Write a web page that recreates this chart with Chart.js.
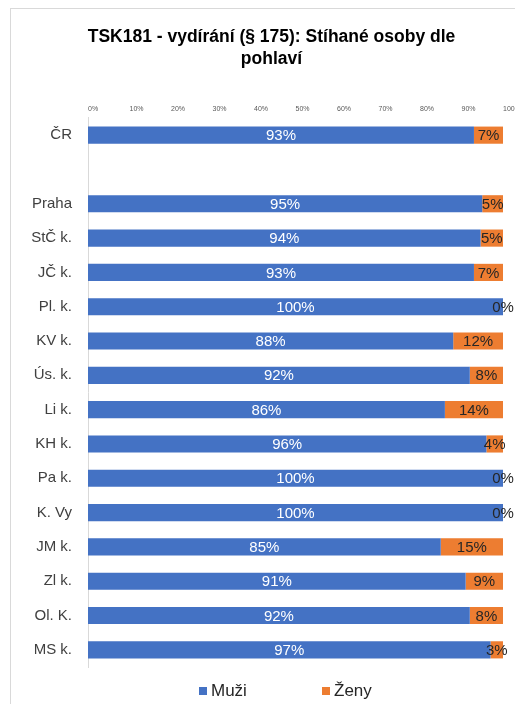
<!DOCTYPE html>
<html>
<head>
<meta charset="utf-8">
<script src="https://cdn.jsdelivr.net/npm/chart.js@4/dist/chart.umd.min.js"></script>
<style>
  html, body { margin: 0; padding: 0; background: #fff; overflow: hidden; }
  #frame { position: absolute; left: 10px; top: 8px; width: 522px; height: 700px;
           border-left: 1px solid #d9d9d9; border-top: 1px solid #d9d9d9; }
  #c { position: absolute; left: 0; top: 0; }
  .leg { position: absolute; font: 17px "Liberation Sans", Arial, sans-serif; color: #262626;
         line-height: 17px; white-space: nowrap; }
  .sw { display: inline-block; width: 8px; height: 8px; margin-right: 4px; vertical-align: 1px; }
</style>
</head>
<body>
<div id="frame">
  <canvas id="c" width="521" height="695"></canvas>
</div>
<div class="leg" style="left:199px;top:682px"><span class="sw" style="background:#4472C4"></span>Muži</div>
<div class="leg" style="left:322px;top:682px"><span class="sw" style="background:#ED7D31"></span>Ženy</div>
<script>
const categories = ['ČR', '', 'Praha', 'StČ k.', 'JČ k.', 'Pl. k.', 'KV k.', 'Ús. k.', 'Li k.', 'KH k.', 'Pa k.', 'K. Vy', 'JM k.', 'Zl k.', 'Ol. K.', 'MS k.'];
const muzi = [93, null, 95, 94.6, 93, 100, 88, 92, 86, 96, 100, 100, 85, 91, 92, 97];
const zeny = [7, null, 5, 5.4, 7, 0, 12, 8, 14, 4, 0, 0, 15, 9, 8, 3];
const seriesNames = ['Muži', 'Ženy'];
const titleLines = ['TSK181 - vydírání (§ 175): Stíhané osoby dle', 'pohlaví'];

const FONT = '"Liberation Sans", Arial, sans-serif';

const labelPlugin = {
  id: 'barLabels',
  afterDatasetsDraw(chart) {
    const ctx = chart.ctx;
    chart.data.datasets.forEach((ds, i) => {
      const meta = chart.getDatasetMeta(i);
      meta.data.forEach((el, j) => {
        const v = ds.data[j];
        if (v === null || v === undefined) return;
        const p = el.getProps(['x', 'base', 'y'], true);
        ctx.save();
        ctx.font = '15px ' + FONT;
        ctx.fillStyle = ds.labelColor;
        ctx.textAlign = 'center';
        ctx.textBaseline = 'middle';
        ctx.fillText(Math.floor(v) + '%', (p.x + p.base) / 2, p.y + 1);
        ctx.restore();
      });
    });
  }
};

new Chart(document.getElementById('c'), {
  type: 'bar',
  data: {
    labels: categories,
    datasets: [
      { label: seriesNames[0], data: muzi, backgroundColor: '#4472C4', labelColor: '#ffffff', borderWidth: 0 },
      { label: seriesNames[1], data: zeny, backgroundColor: '#ED7D31', labelColor: '#262626', borderWidth: 0 }
    ]
  },
  options: {
    indexAxis: 'y',
    responsive: false,
    animation: false,
    events: [],
    layout: { padding: { left: 0, right: 0, top: 0, bottom: 37 } },
    datasets: { bar: { categoryPercentage: 0.5, barPercentage: 1 } },
    scales: {
      x: {
        position: 'top', stacked: true, min: 0, max: 100,
        grid: { display: false, drawTicks: false },
        border: { display: false },
        ticks: { stepSize: 10, align: 'start', padding: 5, color: '#595959',
                 font: { family: FONT, size: 7 }, callback: v => v + '%' },
        afterFit: s => { s.height = 48; }
      },
      y: {
        stacked: true,
        grid: { display: false, drawTicks: false },
        border: { display: true, color: '#d9d9d9', width: 1 },
        ticks: { padding: 16, color: '#404040', font: { family: FONT, size: 15 } },
        afterFit: s => { s.width = 77; }
      },
      yR: {
        type: 'category', position: 'right', labels: categories,
        grid: { display: false, drawTicks: false }, border: { display: false },
        ticks: { display: false },
        afterFit: s => { s.width = 29; }
      }
    },
    plugins: {
      legend: { display: false },
      tooltip: { enabled: false },
      title: {
        display: true, text: titleLines, color: '#000',
        font: { family: FONT, size: 17.5, weight: 'bold', lineHeight: 1.257 },
        padding: { top: 17, bottom: 0 }
      }
    }
  },
  plugins: [labelPlugin]
});
</script>
</body>
</html>
